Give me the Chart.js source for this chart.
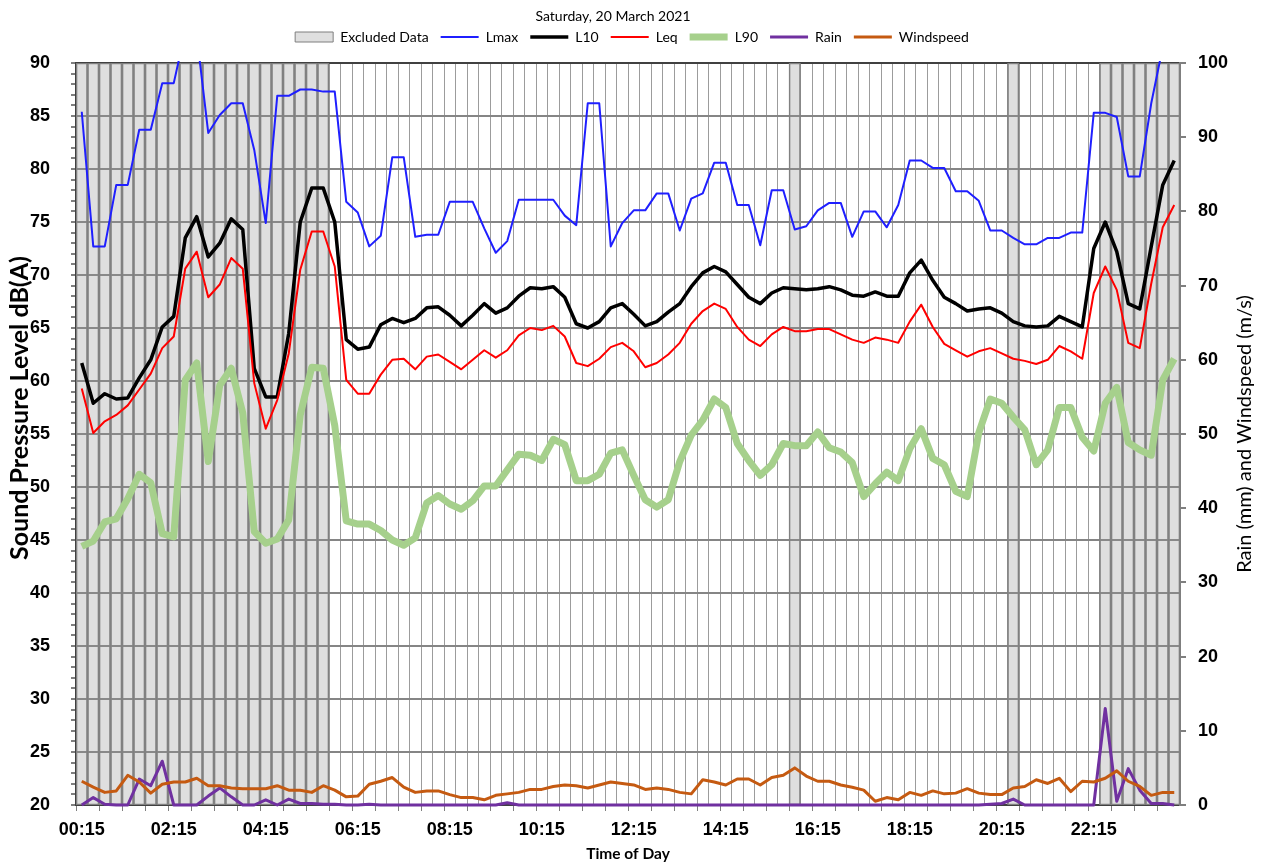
<!DOCTYPE html>
<html>
<head>
<meta charset="utf-8">
<title>Saturday, 20 March 2021</title>
<script src="https://cdn.jsdelivr.net/npm/chart.js@4.4.1/dist/chart.umd.min.js"></script>
<style>
  html, body { margin: 0; padding: 0; background: #fff; }
  #wrap { width: 1264px; height: 863px; }
</style>
</head>
<body>
<div id="wrap"><canvas id="noise" width="1264" height="863"></canvas></div>
<script>
'use strict';

// 15 minute intervals, label = end of interval
const times = [
  '00:15','00:30','00:45','01:00','01:15','01:30','01:45','02:00','02:15','02:30','02:45','03:00',
  '03:15','03:30','03:45','04:00','04:15','04:30','04:45','05:00','05:15','05:30','05:45','06:00',
  '06:15','06:30','06:45','07:00','07:15','07:30','07:45','08:00','08:15','08:30','08:45','09:00',
  '09:15','09:30','09:45','10:00','10:15','10:30','10:45','11:00','11:15','11:30','11:45','12:00',
  '12:15','12:30','12:45','13:00','13:15','13:30','13:45','14:00','14:15','14:30','14:45','15:00',
  '15:15','15:30','15:45','16:00','16:15','16:30','16:45','17:00','17:15','17:30','17:45','18:00',
  '18:15','18:30','18:45','19:00','19:15','19:30','19:45','20:00','20:15','20:30','20:45','21:00',
  '21:15','21:30','21:45','22:00','22:15','22:30','22:45','23:00','23:15','23:30','23:45','24:00'
];
const tickLabels = ['00:15','02:15','04:15','06:15','08:15','10:15','12:15','14:15','16:15','18:15','20:15','22:15'];

const excludedTimes = [
  '00:15','00:30','00:45','01:00','01:15','01:30','01:45','02:00','02:15','02:30','02:45',
  '03:00','03:15','03:30','03:45','04:00','04:15','04:30','04:45','05:00','05:15','05:30',
  '15:45', '20:30',
  '22:30','22:45','23:00','23:15','23:30','23:45','24:00'
];

// dB(A)
const lmax = [
  85.4, 72.7, 72.7, 78.5, 78.5, 83.7, 83.7, 88.1, 88.1, 93.0,
  92.6, 83.4, 85.1, 86.2, 86.2, 81.8, 74.9, 86.9, 86.9, 87.5,
  87.5, 87.3, 87.3, 76.9, 75.9, 72.7, 73.7, 81.1, 81.1, 73.6,
  73.8, 73.8, 76.9, 76.9, 76.9, 74.4, 72.1, 73.2, 77.1, 77.1,
  77.1, 77.1, 75.6, 74.7, 86.2, 86.2, 72.7, 74.9, 76.1, 76.1,
  77.7, 77.7, 74.2, 77.2, 77.7, 80.6, 80.6, 76.6, 76.6, 72.8,
  78.0, 78.0, 74.3, 74.6, 76.1, 76.8, 76.8, 73.6, 76.0, 76.0,
  74.5, 76.6, 80.8, 80.8, 80.1, 80.1, 77.9, 77.9, 77.0, 74.2,
  74.2, 73.5, 72.9, 72.9, 73.5, 73.5, 74.0, 74.0, 85.3, 85.3,
  84.9, 79.3, 79.3, 86.2, 91.5, 94.0
];
const l10 = [
  61.7, 57.9, 58.8, 58.3, 58.4, 60.3, 62.0, 65.1, 66.1, 73.5,
  75.5, 71.7, 73.0, 75.3, 74.3, 61.2, 58.5, 58.5, 64.5, 75.0,
  78.2, 78.2, 75.0, 63.9, 63.0, 63.2, 65.3, 65.9, 65.5, 65.9,
  66.9, 67.0, 66.2, 65.2, 66.2, 67.3, 66.4, 66.9, 68.0, 68.8,
  68.7, 68.9, 67.9, 65.4, 65.0, 65.6, 66.9, 67.3, 66.3, 65.2,
  65.6, 66.5, 67.3, 68.9, 70.2, 70.8, 70.3, 69.1, 67.9, 67.3,
  68.3, 68.8, 68.7, 68.6, 68.7, 68.9, 68.6, 68.1, 68.0, 68.4,
  68.0, 68.0, 70.2, 71.4, 69.5, 67.9, 67.3, 66.6, 66.8, 66.9,
  66.4, 65.6, 65.2, 65.1, 65.2, 66.1, 65.6, 65.1, 72.5, 75.0,
  72.2, 67.3, 66.8, 72.7, 78.5, 80.8
];
const leq = [
  59.3, 55.1, 56.2, 56.8, 57.7, 59.2, 60.7, 63.1, 64.2, 70.6,
  72.2, 67.9, 69.1, 71.6, 70.6, 59.8, 55.5, 58.2, 62.6, 70.5,
  74.1, 74.1, 70.8, 60.1, 58.8, 58.8, 60.6, 62.0, 62.1, 61.1,
  62.3, 62.5, 61.8, 61.1, 62.0, 62.9, 62.2, 62.9, 64.3, 65.0,
  64.8, 65.2, 64.2, 61.7, 61.4, 62.1, 63.2, 63.6, 62.8, 61.3,
  61.7, 62.5, 63.6, 65.4, 66.6, 67.3, 66.8, 65.1, 63.9, 63.3,
  64.4, 65.1, 64.7, 64.7, 64.9, 64.9, 64.4, 63.9, 63.6, 64.1,
  63.9, 63.6, 65.6, 67.2, 65.1, 63.5, 62.9, 62.3, 62.8, 63.1,
  62.6, 62.1, 61.9, 61.6, 62.0, 63.3, 62.8, 62.1, 68.3, 70.8,
  68.6, 63.6, 63.1, 69.2, 74.5, 76.6
];
const l90 = [
  44.4, 44.9, 46.7, 47.0, 48.9, 51.2, 50.4, 45.6, 45.3, 60.1,
  61.7, 52.4, 59.6, 61.2, 57.0, 45.8, 44.7, 45.1, 46.9, 56.8,
  61.3, 61.2, 55.8, 46.8, 46.5, 46.5, 45.9, 45.0, 44.5, 45.2,
  48.5, 49.2, 48.4, 47.9, 48.7, 50.1, 50.1, 51.6, 53.1, 53.0,
  52.5, 54.5, 54.0, 50.6, 50.6, 51.2, 53.2, 53.5, 51.1, 48.8,
  48.1, 48.8, 52.4, 54.9, 56.3, 58.3, 57.5, 54.1, 52.5, 51.1,
  52.1, 54.1, 53.9, 53.9, 55.2, 53.7, 53.3, 52.3, 49.1, 50.3,
  51.4, 50.6, 53.6, 55.5, 52.7, 52.1, 49.6, 49.1, 55.1, 58.3,
  57.9, 56.6, 55.4, 52.1, 53.5, 57.5, 57.5, 54.7, 53.4, 57.9,
  59.4, 54.2, 53.5, 53.0, 60.1, 62.1
];

// mm
const rain = [
  0, 1.0, 0.1, 0, 0, 3.5, 2.6, 5.9, 0, 0,
  0, 1.2, 2.3, 1.1, 0, 0, 0.7, 0, 0.8, 0.2,
  0.2, 0.1, 0.1, 0, 0, 0.1, 0, 0, 0, 0,
  0, 0, 0, 0, 0, 0, 0, 0.3, 0, 0,
  0, 0, 0, 0, 0, 0, 0, 0, 0, 0,
  0, 0, 0, 0, 0, 0, 0, 0, 0, 0,
  0, 0, 0, 0, 0, 0, 0, 0, 0, 0,
  0, 0, 0, 0, 0, 0, 0, 0, 0, 0.1,
  0.2, 0.8, 0, 0, 0, 0, 0, 0, 0, 13.0,
  0.5, 4.9, 2.0, 0.2, 0.2, 0
];
// m/s
const windspeed = [
  3.2, 2.4, 1.7, 1.9, 4.0, 3.1, 1.6, 2.8, 3.1, 3.1,
  3.6, 2.6, 2.6, 2.3, 2.2, 2.2, 2.2, 2.6, 2.0, 2.0,
  1.7, 2.6, 2.0, 1.1, 1.2, 2.8, 3.2, 3.7, 2.4, 1.7,
  1.9, 1.9, 1.4, 1.0, 1.0, 0.7, 1.3, 1.5, 1.7, 2.1,
  2.1, 2.5, 2.7, 2.6, 2.3, 2.7, 3.1, 2.9, 2.7, 2.1,
  2.3, 2.1, 1.7, 1.5, 3.4, 3.1, 2.7, 3.5, 3.5, 2.7,
  3.7, 4.0, 5.0, 3.9, 3.2, 3.2, 2.7, 2.4, 2.0, 0.5,
  1.0, 0.7, 1.7, 1.3, 1.9, 1.5, 1.6, 2.2, 1.6, 1.4,
  1.4, 2.3, 2.5, 3.4, 2.9, 3.6, 1.8, 3.2, 3.1, 3.6,
  4.6, 3.2, 2.5, 1.3, 1.7, 1.7
];

const grey = '#7f7f7f';
const dark = '#404040';
const tickFont = {family: 'Liberation Sans, Arial, sans-serif', size: 18, weight: 'bold'};
const textFont = 'Lato, sans-serif';

// chart title plus the two vertical axis titles (both read bottom to top)
const freeTexts = {
  id: 'freeTexts',
  afterDraw(chart) {
    const {ctx, chartArea} = chart;
    const mid = (chartArea.top + chartArea.bottom) / 2;
    ctx.save();
    ctx.fillStyle = '#000';
    ctx.textAlign = 'center';
    ctx.textBaseline = 'middle';

    ctx.font = '14px ' + textFont;
    ctx.fillText('Saturday, 20 March 2021', 613, 16);

    ctx.save();
    ctx.font = 'bold 25px ' + textFont;
    ctx.translate(20, mid - 26);
    ctx.rotate(-Math.PI / 2);
    ctx.fillText('Sound Pressure Level dB(A)', 0, 0);
    ctx.restore();

    ctx.save();
    ctx.font = '20px ' + textFont;
    ctx.translate(chart.width - 19, mid);
    ctx.rotate(-Math.PI / 2);
    ctx.fillText('Rain (mm) and Windspeed (m/s)', 0, 0);
    ctx.restore();

    ctx.restore();
  }
};

// extra room between legend row and plot
const legendGap = {
  id: 'legendGap',
  beforeLayout(chart) {
    const lg = chart.legend;
    if (lg && !lg.patched) {
      const fit = lg.fit;
      lg.fit = function () { fit.call(this); this.height += 9; };
      lg.patched = true;
    }
  }
};

function lineSet(label, data, color, width, axis, order) {
  return {
    type: 'line', label, data,
    borderColor: color, backgroundColor: color, borderWidth: width,
    pointRadius: 0, pointHoverRadius: 0, pointStyle: 'line',
    tension: 0, borderJoinStyle: 'round', yAxisID: axis, order, clip: 2
  };
}

new Chart(document.getElementById('noise'), {
  data: {
    labels: times,
    datasets: [
      {
        type: 'bar', label: 'Excluded Data',
        data: times.map(t => excludedTimes.includes(t) ? [20, 90] : null),
        backgroundColor: 'rgba(150,150,150,0.3)', borderColor: grey, borderWidth: 1,
        borderSkipped: false, barPercentage: 1, categoryPercentage: 1,
        pointStyle: 'rect', yAxisID: 'y', order: 10
      },
      lineSet('Lmax', lmax, '#1f1fff', 2, 'y', 6),
      lineSet('L10', l10, '#000000', 3.5, 'y', 5),
      lineSet('Leq', leq, '#ff0000', 2, 'y', 4),
      lineSet('L90', l90, '#a6d08c', 7, 'y', 3),
      lineSet('Rain', rain, '#7030a0', 3, 'y1', 2),
      lineSet('Windspeed', windspeed, '#c55a11', 3, 'y1', 1)
    ]
  },
  options: {
    responsive: false,
    devicePixelRatio: 1,
    animation: false,
    events: [],
    layout: {padding: {top: 18}},
    plugins: {
      tooltip: {enabled: false},
      title: {display: false},
      legend: {
        display: true,
        labels: {
          usePointStyle: true,
          pointStyleWidth: 38,
          boxHeight: 10,
          padding: 12,
          color: '#000',
          font: {family: textFont, size: 14},
          sort: (a, b) => a.datasetIndex - b.datasetIndex
        }
      }
    },
    scales: {
      x: {
        type: 'category',
        offset: true,
        grid: {
          offset: true,
          color: '#9c9c9c',
          lineWidth: 1,
          tickLength: 6,
          tickColor: c => (c.index % 2 === 0 ? grey : 'rgba(0,0,0,0)')
        },
        border: {color: dark, width: 2},
        ticks: {
          autoSkip: false,
          maxRotation: 0,
          color: '#000',
          font: tickFont,
          padding: 8,
          callback: (v, i) => (tickLabels.includes(times[i]) ? times[i] : '')
        },
        title: {
          display: true,
          text: 'Time of Day',
          color: '#000',
          font: {family: textFont, size: 15.5, weight: 'bold'},
          padding: {top: 0, bottom: 0}
        },
        afterFit: s => { s.height = 58; }
      },
      y: {
        position: 'left',
        min: 20,
        max: 90,
        grid: {
          color: c => (c.tick.value === 90 ? dark : c.tick.value % 5 === 0 ? '#858585' : 'rgba(0,0,0,0)'),
          lineWidth: 2,
          tickColor: grey,
          tickLength: 5
        },
        border: {color: dark, width: 2},
        ticks: {
          stepSize: 1,
          autoSkip: false,
          color: '#000',
          font: tickFont,
          padding: 21,
          callback: v => (v % 5 === 0 ? v : '')
        },
        afterFit: s => { s.width = 76; }
      },
      y1: {
        position: 'right',
        min: 0,
        max: 100,
        grid: {drawOnChartArea: false, tickColor: grey, tickLength: 6, lineWidth: 2},
        border: {color: grey, width: 2},
        ticks: {stepSize: 10, color: '#000', font: tickFont, padding: 12},
        afterFit: s => { s.width = 84; }
      }
    }
  },
  plugins: [freeTexts, legendGap]
});
</script>
</body>
</html>
